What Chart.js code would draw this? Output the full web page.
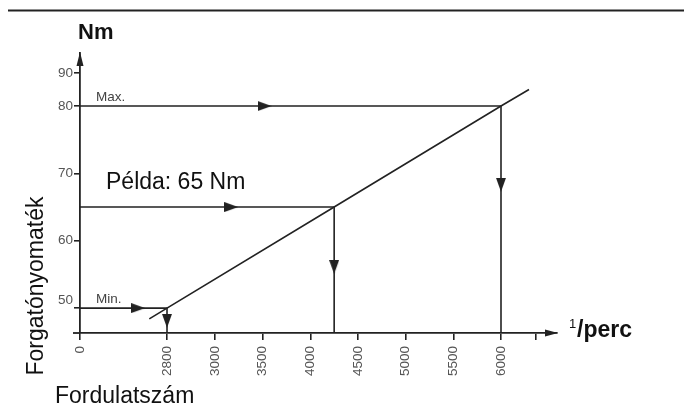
<!DOCTYPE html>
<html>
<head>
<meta charset="utf-8">
<script src="https://cdn.jsdelivr.net/npm/chart.js@4.4.1/dist/chart.umd.min.js"></script>
<style>
  html, body { margin: 0; padding: 0; background: #fff; }
</style>
</head>
<body>
<canvas id="c" width="684" height="414"></canvas>
<script>
/* Nyomaték / fordulatszám diagram */

const INK = '#222';
const FONT = "'Liberation Sans', Arial, sans-serif";

// Tengelyek
const rpmTicks = [0, 2800, 3000, 3500, 4000, 4500, 5000, 5500, 6000, 6500];
const rpmTickLabels = ['0', '2800', '3000', '3500', '4000', '4500', '5000', '5500', '6000', ''];
const nmTicks = [50, 60, 70, 80, 90];

// Jelleggörbe
const curveRpm = [2230, 2800, 4250, 6000, 6400];
const curveNm = [48.4, 50, 65, 80, 85];

// Beállítási esetek (Max / Példa / Min)
const caseNames = ['Max.', 'Példa: 65 Nm', 'Min.'];
const caseNm = [80, 65, 50];
const caseRpm = [6000, 4250, 2800];
const pushArrowRpm = [3520, 3170, 1870];   // vízszintes nyilak helye
const dropArrowNm = [68.3, 56.1, 48.1];    // függőleges nyilak helye

// Szakaszonként lineáris skála (a rajz sematikus, nem arányos)
class SchematicScale extends Chart.LinearScale {
  toDecimal(v) {
    const k = this.options.knots, f = this.options.stops;
    let i = 1;
    while (i < k.length - 1 && v > k[i]) i++;
    return f[i - 1] + (v - k[i - 1]) * (f[i] - f[i - 1]) / (k[i] - k[i - 1]);
  }
  getPixelForValue(v) {
    return this.getPixelForDecimal(this.toDecimal(v));
  }
  getValueForPixel(p) {
    const d = this.getDecimalForPixel(p);
    const k = this.options.knots, f = this.options.stops;
    let i = 1;
    while (i < f.length - 1 && d > f[i]) i++;
    return k[i - 1] + (d - f[i - 1]) * (k[i] - k[i - 1]) / (f[i] - f[i - 1]);
  }
}
SchematicScale.id = 'schematic';
SchematicScale.defaults = {};
Chart.register(SchematicScale);

// Nyílhegy (jobbra mutat, forgatással lefelé)
function arrowHead(len, wid) {
  const c = document.createElement('canvas');
  c.width = len; c.height = wid;
  const g = c.getContext('2d');
  g.fillStyle = INK;
  g.beginPath();
  g.moveTo(0, 0); g.lineTo(len, wid / 2); g.lineTo(0, wid);
  g.closePath(); g.fill();
  return c;
}
const HEAD = arrowHead(14, 10);

const Y_MIN = 46.3;

const datasets = [];
datasets.push({
  data: curveRpm.map((x, i) => ({ x, y: curveNm[i] })),
  showLine: true, borderColor: INK, borderWidth: 1.6, pointRadius: 0
});
caseNm.forEach((nm, i) => {
  datasets.push({
    data: [{ x: 0, y: nm }, { x: caseRpm[i], y: nm }, { x: caseRpm[i], y: Y_MIN }],
    showLine: true, borderColor: INK, borderWidth: 1.6, pointRadius: 0
  });
});
datasets.push({
  data: pushArrowRpm.map((x, i) => ({ x, y: caseNm[i] })),
  pointStyle: HEAD, pointRadius: 7, rotation: 0
});
datasets.push({
  data: dropArrowNm.map((y, i) => ({ x: caseRpm[i], y })),
  pointStyle: HEAD, pointRadius: 7, rotation: 90
});

// Feliratok, tengelynyilak
const decor = {
  id: 'decor',
  afterDraw(chart) {
    const { ctx, chartArea: a, scales: { x, y } } = chart;
    ctx.save();
    ctx.strokeStyle = INK; ctx.fillStyle = INK; ctx.lineWidth = 1.8;

    // felső vonal
    ctx.beginPath(); ctx.moveTo(8, 10.5); ctx.lineTo(684, 10.5); ctx.stroke();
    // x tengely balra kicsit túlnyúlik
    ctx.beginPath(); ctx.moveTo(a.left - 7, a.bottom); ctx.lineTo(a.left, a.bottom); ctx.stroke();

    // tengelynyilak
    ctx.beginPath();
    ctx.moveTo(a.left, a.top - 1); ctx.lineTo(a.left - 3.5, a.top + 13); ctx.lineTo(a.left + 3.5, a.top + 13);
    ctx.closePath(); ctx.fill();
    ctx.beginPath();
    ctx.moveTo(a.right + 1, a.bottom); ctx.lineTo(a.right - 12, a.bottom - 3.5); ctx.lineTo(a.right - 12, a.bottom + 3.5);
    ctx.closePath(); ctx.fill();

    // esetek feliratai
    ctx.textBaseline = 'alphabetic';
    ctx.textAlign = 'left';
    caseNames.forEach((name, i) => {
      const py = y.getPixelForValue(caseNm[i]);
      if (i === 1) {
        ctx.fillStyle = '#111';
        ctx.font = '23px ' + FONT;
        ctx.fillText(name, a.left + 26, py - 18);
      } else {
        ctx.fillStyle = '#444';
        ctx.font = '13.5px ' + FONT;
        ctx.fillText(name, a.left + 16, py - 5.5);
      }
    });

    // mértékegységek
    ctx.fillStyle = '#111';
    ctx.font = 'bold 22px ' + FONT;
    ctx.fillText('Nm', 78, 39);
    ctx.font = '13px ' + FONT;
    ctx.fillText('1', 569, 328);
    ctx.font = 'bold 23px ' + FONT;
    ctx.fillText('/perc', 577, 337);

    // tengelycímek
    ctx.font = '23px ' + FONT;
    ctx.fillText('Fordulatszám', 55, 403);
    ctx.save();
    ctx.translate(43, 286);
    ctx.rotate(-Math.PI / 2);
    ctx.textAlign = 'center';
    ctx.fillText('Forgatónyomaték', 0, 0);
    ctx.restore();

    ctx.restore();
  }
};

new Chart(document.getElementById('c'), {
  type: 'scatter',
  data: { datasets },
  options: {
    responsive: false,
    animation: false,
    layout: { padding: { top: 53, right: 127, left: 0, bottom: 0 } },
    plugins: { legend: { display: false }, tooltip: { enabled: false } },
    scales: {
      x: {
        type: 'schematic',
        min: 0, max: 6800,
        knots: [0, 2800, 3000, 6000, 6800],
        stops: [0, 0.1824, 0.2830, 0.8826, 1],
        afterBuildTicks: s => { s.ticks = rpmTicks.map(v => ({ value: v })); },
        afterFit: s => { s.height = 81; },
        grid: { drawOnChartArea: false, color: INK, lineWidth: 1.6, tickLength: 7 },
        border: { color: INK, width: 1.8 },
        ticks: {
          autoSkip: false, minRotation: 90, maxRotation: 90, padding: 6,
          color: '#555', font: { family: FONT, size: 13.5 },
          callback: (v, i) => rpmTickLabels[i]
        }
      },
      y: {
        type: 'schematic',
        min: Y_MIN, max: 96.1,
        knots: [Y_MIN, 80, 96.1],
        stops: [0, 0.8107, 1],
        afterBuildTicks: s => { s.ticks = nmTicks.map(v => ({ value: v })); },
        afterFit: s => { s.width = 80; },
        grid: { drawOnChartArea: false, color: INK, lineWidth: 1.6, tickLength: 6 },
        border: { color: INK, width: 1.8 },
        ticks: {
          padding: 1, color: '#555', font: { family: FONT, size: 13.5 },
          // az 50-es felirat a Min. vonal fölé kerül
          callback: v => v === 50 ? ['50', ''] : String(v)
        }
      }
    }
  },
  plugins: [decor]
});
</script>
</body>
</html>
